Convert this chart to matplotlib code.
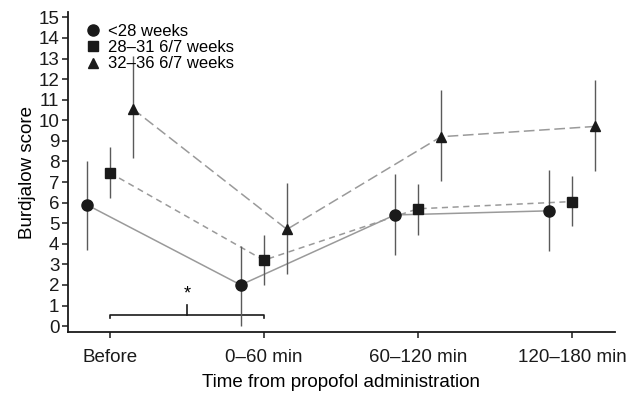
import numpy as np
import matplotlib.pyplot as plt

plt.rcParams['font.family'] = ['Liberation Sans', 'DejaVu Sans']

categories = ["Before", "0\u201360 min", "60\u2013120 min", "120\u2013180 min"]
groups = ["<28 weeks", "28\u201331 6/7 weeks", "32\u201336 6/7 weeks"]

mean_lt28 = [5.9, 2.0, 5.4, 5.6]
low_lt28 = [3.7, 0.0, 3.45, 3.65]
high_lt28 = [8.0, 3.9, 7.4, 7.6]

mean_28_31 = [7.45, 3.2, 5.7, 6.05]
low_28_31 = [6.2, 2.0, 4.45, 4.85]
high_28_31 = [8.7, 4.45, 6.9, 7.3]

mean_32_36 = [10.55, 4.7, 9.2, 9.7]
low_32_36 = [8.15, 2.55, 7.05, 7.55]
high_32_36 = [13.1, 6.95, 11.45, 11.95]

offsets = [-0.15, 0.0, 0.15]
markers = ["o", "s", "^"]
linestyles = ["-", (0, (4, 3)), (0, (7, 3))]
sizes = [8, 7, 7.5]

fig = plt.figure(figsize=(6.27, 3.93), dpi=100)
ax = fig.add_axes([0.108, 0.155, 0.873, 0.814])

x = np.arange(len(categories))
series = [
    (mean_lt28, low_lt28, high_lt28),
    (mean_28_31, low_28_31, high_28_31),
    (mean_32_36, low_32_36, high_32_36),
]
for i, (m, lo, hi) in enumerate(series):
    xs = x + offsets[i]
    m = np.array(m)
    yerr = [m - np.array(lo), np.array(hi) - m]
    ax.plot(xs, m, color="#9a9a9a", linestyle=linestyles[i], lw=1.1, zorder=2)
    ax.errorbar(xs, m, yerr=yerr, fmt="none", ecolor="#5a5a5a", elinewidth=1.0,
                capsize=0, zorder=3)
    ax.plot(xs, m, linestyle="none", marker=markers[i], ms=sizes[i],
            color="#1a1a1a", label=groups[i], zorder=4)

# significance bracket between Before and 0-60 min
ax.plot([0, 0, 1, 1], [0.4, 0.55, 0.55, 0.4], color="#1a1a1a", lw=1.2)
ax.plot([0.5, 0.5], [0.55, 1.05], color="#1a1a1a", lw=1.2)
ax.text(0.5, 1.15, "*", ha="center", va="bottom", fontsize=13)

ax.set_xlim(-0.273, 3.28)
ax.set_ylim(-0.29, 15.25)
ax.set_yticks(range(0, 16))
ax.set_xticks(x)
ax.set_xticklabels(categories)
ax.tick_params(labelsize=13.5, length=4, width=1.1, colors="#1a1a1a", pad=2)
ax.tick_params(axis="x", pad=8)
for s in ["top", "right"]:
    ax.spines[s].set_visible(False)
for s in ["left", "bottom"]:
    ax.spines[s].set_linewidth(1.3)
    ax.spines[s].set_color("#1a1a1a")

ax.set_ylabel("Burdjalow score", fontsize=13.5, labelpad=2)
ax.set_xlabel("Time from propofol administration", fontsize=13.5, labelpad=6)

ax.legend(loc="upper left", bbox_to_anchor=(0.015, 0.995), frameon=False,
          fontsize=12, handlelength=0.8, handletextpad=0.55, labelspacing=0.08,
          borderaxespad=0.2)

fig.savefig("out.png", dpi=100)
